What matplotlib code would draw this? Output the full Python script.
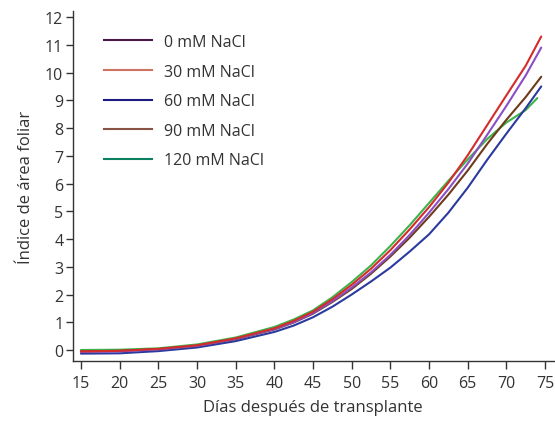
import matplotlib
matplotlib.use("Agg")
import matplotlib.pyplot as plt
from matplotlib.lines import Line2D

plt.rcParams['font.family'] = ['Open Sans', 'DejaVu Sans']

days = [15, 20, 25, 30, 35, 40, 42.5, 45, 47.5, 50, 52.5, 55, 57.5, 60, 62.5, 65, 67.5, 70, 72.5, 74.5]
days_green = [15, 20, 25, 30, 35, 40, 42.5, 45, 47.5, 50, 52.5, 55, 57.5, 60, 62.5, 65, 67.5, 70, 72.5, 74]

iaf_0 = [-0.07, -0.05, 0.02, 0.15, 0.40, 0.75, 1.00, 1.33, 1.76, 2.25, 2.80, 3.43, 4.15, 4.95, 5.80, 6.72, 7.75, 8.80, 9.90, 10.9]
iaf_30 = [-0.05, -0.03, 0.04, 0.17, 0.42, 0.78, 1.05, 1.38, 1.83, 2.35, 2.93, 3.60, 4.35, 5.15, 6.03, 7.02, 8.10, 9.18, 10.25, 11.3]
iaf_60 = [-0.13, -0.12, -0.04, 0.09, 0.32, 0.65, 0.88, 1.18, 1.56, 2.00, 2.47, 2.97, 3.55, 4.17, 4.95, 5.85, 6.85, 7.80, 8.72, 9.5]
iaf_90 = [-0.05, -0.03, 0.03, 0.15, 0.39, 0.74, 0.99, 1.31, 1.73, 2.20, 2.75, 3.37, 4.05, 4.80, 5.60, 6.47, 7.42, 8.30, 9.12, 9.85]
iaf_120 = [0.00, 0.01, 0.06, 0.20, 0.45, 0.83, 1.10, 1.43, 1.90, 2.45, 3.05, 3.75, 4.50, 5.30, 6.10, 6.87, 7.60, 8.20, 8.65, 9.08]

labels = ["0 mM NaCl", "30 mM NaCl", "60 mM NaCl", "90 mM NaCl", "120 mM NaCl"]
line_colors = ["#8a4fc4", "#d42b2b", "#2b3a9e", "#6e3b1c", "#3db34a"]
legend_colors = ["#4a1848", "#d07262", "#1c1c82", "#8a5444", "#0a8060"]

xticks = list(range(15, 80, 5))
yticks = list(range(0, 13))

fig = plt.figure(figsize=(5.55, 4.27), dpi=100)
ax = fig.add_axes([0.1315, 0.152, 0.866, 0.82])

series = [(days, iaf_0), (days, iaf_30), (days, iaf_60), (days, iaf_90), (days_green, iaf_120)]
order = [4, 2, 3, 0, 1]
for i in order:
    x, y = series[i]
    ax.plot(x, y, color=line_colors[i], lw=1.5, solid_capstyle='round', solid_joinstyle='round')

ax.set_xlim(13.97, 76.1)
ax.set_ylim(-0.4, 12.22)
ax.set_xticks(xticks)
ax.set_yticks(yticks)
ax.spines['top'].set_visible(False)
ax.spines['right'].set_visible(False)
for s in ['left', 'bottom']:
    ax.spines[s].set_color('#333333')
    ax.spines[s].set_linewidth(1.0)
ax.tick_params(axis='both', direction='out', length=5, width=1.0, color='#333333',
               labelsize=11.5, labelcolor='#333333', pad=2)
ax.tick_params(axis='x', length=6, pad=4)

ax.set_xlabel("Días después de transplante", fontsize=12, color='#333333', labelpad=6)
ax.set_ylabel("Índice de área foliar", fontsize=12, color='#333333', labelpad=8)

handles = [Line2D([], [], color=c, lw=1.5) for c in legend_colors]
leg = ax.legend(handles, labels, loc='upper left', frameon=False, fontsize=11.5,
                handlelength=3.0, handletextpad=0.75, labelspacing=0.85,
                bbox_to_anchor=(0.035, 0.975), labelcolor='#333333')

fig.savefig("out.png", dpi=100)
